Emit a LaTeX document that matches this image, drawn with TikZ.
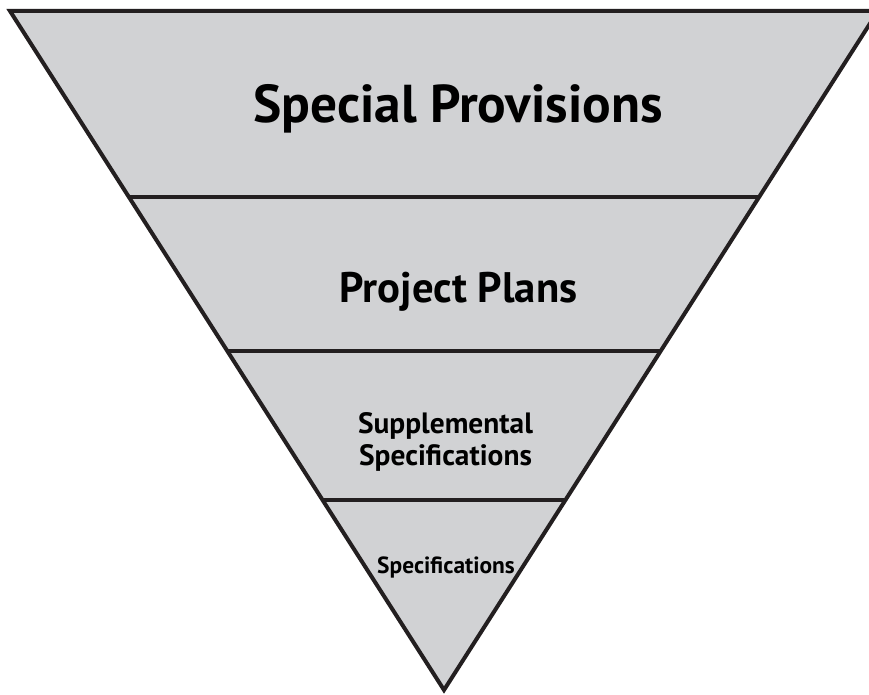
\documentclass[tikz,border=0pt]{standalone}
\usepackage{fontspec}
\setmainfont{PT Sans}
\usetikzlibrary{calc}
\definecolor{fillgray}{HTML}{D1D2D4}
\definecolor{edge}{HTML}{231F20}
\begin{document}
\begin{tikzpicture}[x=1pt,y=-1pt,
  band/.style={draw=edge,line width=4pt,line join=miter},
  sep/.style={draw=edge,line width=4pt},
  lbl/.style={text=black,align=center,inner sep=0pt,anchor=base}]
\useasboundingbox (0,0) rectangle (869,695);
\coordinate (tl) at (10,11);
\coordinate (tr) at (878,11);
\coordinate (ap) at (444,690);
\fill[fillgray] (tl) -- (tr) -- (ap) -- cycle;
% separators
\foreach \yy/\nm in {197/a,351/b,500/c}{
  \coordinate (L\nm) at ($(tl)!{(\yy-11)/679}!(ap)$);
  \coordinate (R\nm) at ($(tr)!{(\yy-11)/679}!(ap)$);
}
\draw[sep] (La) -- (Ra);
\draw[sep] (Lb) -- (Rb);
\draw[sep] (Lc) -- (Rc);
\draw[band] (tl) -- (tr) -- (ap) -- cycle;
\node[lbl,font=\fontsize{53.3}{60}\selectfont\bfseries] (t1) at (458,123) {Special Provisions};
\node[lbl,font=\fontsize{42.7}{48}\selectfont\bfseries] (t2) at (458.5,302) {Project Plans};
\node[lbl,font=\fontsize{29.4}{34}\selectfont\bfseries] (t3a) at (445.5,433) {Supplemental};
\node[lbl,font=\fontsize{29.4}{34}\selectfont\bfseries] (t3b) at (445.5,465) {Specifications};
\node[lbl,font=\fontsize{23.4}{26}\selectfont\bfseries] (t4) at (446,573) {Specifications};
\end{tikzpicture}
\end{document}
